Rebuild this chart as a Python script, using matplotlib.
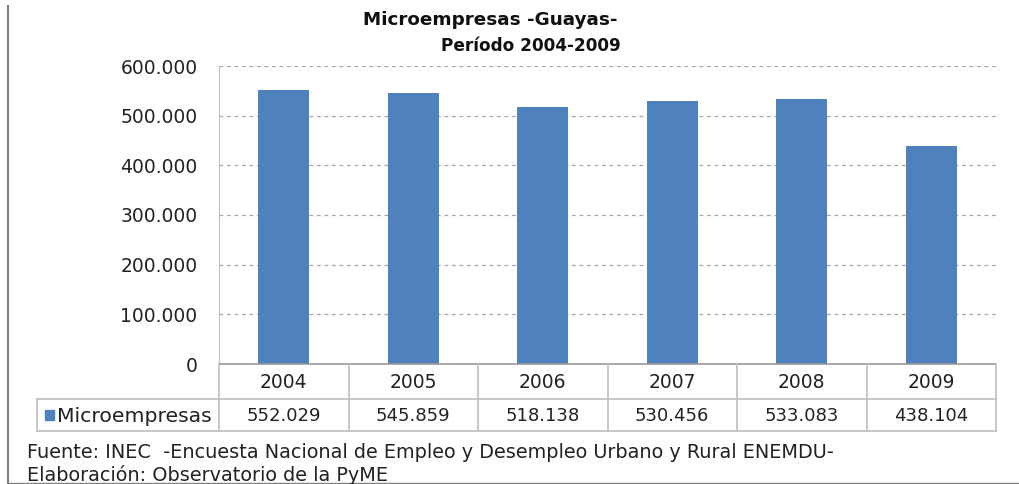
import matplotlib
matplotlib.use("Agg")
import matplotlib.pyplot as plt
from matplotlib.lines import Line2D
from matplotlib.patches import Rectangle

years = ["2004", "2005", "2006", "2007", "2008", "2009"]
values = [552029, 545859, 518138, 530456, 533083, 438104]
series_name = "Microempresas"
yticks = [0, 100000, 200000, 300000, 400000, 500000, 600000]
title = "Microempresas -Guayas-"
subtitle = "Período 2004-2009"
footer1 = "Fuente: INEC  -Encuesta Nacional de Empleo y Desempleo Urbano y Rural ENEMDU-"
footer2 = "Elaboración: Observatorio de la PyME"

BLUE = "#4F81BD"
GRID = "#A6A6A6"
LINE = "#BFBFBF"
TXT = "#222222"
W, H = 1019, 484

def fmt(v):
    return f"{v:,}".replace(",", ".")

fig = plt.figure(figsize=(W / 100, H / 100), dpi=100)
ax = fig.add_axes([219 / W, 1 - 364 / H, (996 - 219) / W, (364 - 66) / H])

x = list(range(len(years)))
ax.bar(x, values, width=0.39, color=BLUE, zorder=3)
ax.set_xlim(-0.5, len(years) - 0.5)
ax.set_ylim(0, 600000)
ax.set_yticks(yticks)
ax.set_yticklabels([fmt(v) for v in yticks], fontsize=13.5, color=TXT, family="DejaVu Sans")
ax.tick_params(axis="y", length=0, pad=15.5)
ax.set_xticks([])
for s in ["top", "right", "bottom"]:
    ax.spines[s].set_visible(False)
ax.spines["left"].set_color(LINE)
ax.grid(axis="y", color=GRID, linestyle=(0, (3, 3)), linewidth=0.9, zorder=0)

def px(xp, yp):
    return xp / W, 1 - yp / H

def hline(x0, x1, yp, color=LINE, lw=1.2):
    fig.add_artist(Line2D([x0 / W, x1 / W], [1 - yp / H, 1 - yp / H], color=color, lw=lw))

def vline(xp, y0, y1, color=LINE, lw=1.2):
    fig.add_artist(Line2D([xp / W, xp / W], [1 - y0 / H, 1 - y1 / H], color=color, lw=lw))

left_px, right_px = 219, 996
top_px, mid_px, bot_px = 364, 399, 431
legend_left = 37
cw = (right_px - left_px) / len(years)

hline(left_px, right_px, top_px, color="#999999")
hline(legend_left, right_px, mid_px)
hline(legend_left, right_px, bot_px)
vline(legend_left, mid_px, bot_px)
vline(left_px, top_px, bot_px)
for i in range(len(years)):
    vline(left_px + cw * (i + 1), top_px, bot_px)

for i, (yr, v) in enumerate(zip(years, values)):
    cx = left_px + cw * (i + 0.5)
    fig.text(*px(cx, (top_px + mid_px) / 2 + 1), yr, ha="center", va="center",
             fontsize=13.5, color=TXT, family="DejaVu Sans")
    fig.text(*px(cx, (mid_px + bot_px) / 2 + 1), fmt(v), ha="center", va="center",
             fontsize=13, color=TXT, family="DejaVu Sans")

fig.add_artist(Rectangle(px(45, 420), 9 / W, 10 / H, color=BLUE))
fig.text(*px(57, (mid_px + bot_px) / 2 + 1), series_name, ha="left", va="center",
         fontsize=14.7, color=TXT, family="DejaVu Sans")

# titles
fig.text(*px(490, 20), title, ha="center", va="center", fontsize=13.2,
         fontweight="bold", family="DejaVu Sans", color="#111111")
fig.text(*px(531, 46), subtitle, ha="center", va="center", fontsize=12.2,
         fontweight="bold", family="DejaVu Sans", color="#111111")

# footer
fig.text(*px(27, 453), footer1, ha="left", va="center", fontsize=13.85,
         family="DejaVu Sans", color=TXT)
fig.text(*px(27, 475), footer2, ha="left", va="center", fontsize=13.85,
         family="DejaVu Sans", color=TXT)

# chart border
vline(8, 6, 484, color="#808080", lw=1.5)
hline(8, W, 482.5, color="#808080", lw=1.0)

fig.savefig("out.png", dpi=100)
